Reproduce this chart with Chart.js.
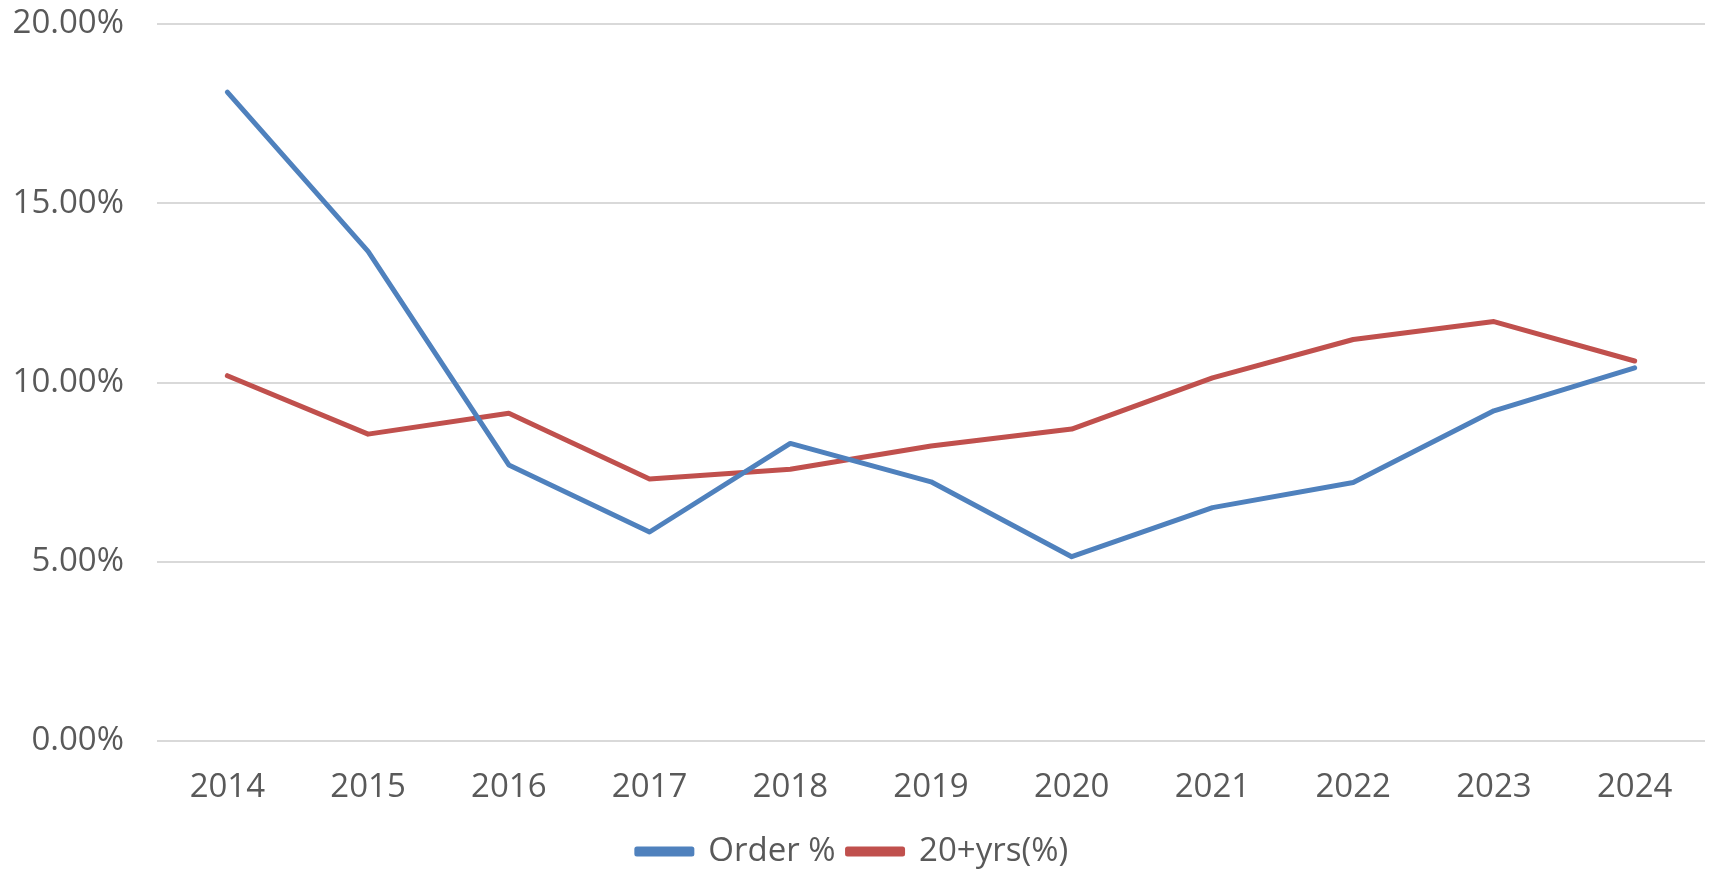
<!DOCTYPE html>
<html>
<head>
<meta charset="utf-8">
<script src="https://cdn.jsdelivr.net/npm/chart.js@4"></script>
<style>
  html, body { margin: 0; padding: 0; background: #fff; }
  #wrap { width: 1710px; height: 872px; }
</style>
</head>
<body>
<div id="wrap"><canvas id="rateChart" width="1710" height="872"></canvas></div>
<script>
// Years on the x axis
const years = ["2014", "2015", "2016", "2017", "2018", "2019", "2020", "2021", "2022", "2023", "2024"];

// Series values (percent)
const orderPct = [18.10, 13.66, 7.70, 5.83, 8.30, 7.23, 5.14, 6.51, 7.21, 9.21, 10.41];
const over20Pct = [10.19, 8.56, 9.14, 7.31, 7.58, 8.23, 8.70, 10.13, 11.20, 11.70, 10.60];

const seriesNames = ["Order %", "20+yrs(%)"];
const seriesColors = ["#4F81BD", "#C0504D"];

const textColor = '#595959';
const fontFamily = '"Open Sans", "Noto Sans", sans-serif';

// nudge the legend down a bit, closer to the bottom edge
const legendNudge = {
    id: 'legendNudge',
    afterLayout: (chart) => {
        chart.legend.top += 6;
        chart.legend.bottom += 6;
    }
};

let rateChart;

const initRateChart = () => {
    const ctx = document.getElementById('rateChart').getContext('2d');
    rateChart = new Chart(ctx, {
        type: 'line',
        data: {
            labels: years,
            datasets: [orderPct, over20Pct].map((values, i) => ({
                label: seriesNames[i],
                data: values,
                borderColor: seriesColors[i],
                backgroundColor: seriesColors[i],
                borderWidth: 5,
                pointRadius: 0,
                tension: 0,
                borderCapStyle: 'round',
                borderJoinStyle: 'round',
                fill: false
            }))
        },
        plugins: [legendNudge],
        options: {
            responsive: false,
            animation: false,
            layout: { padding: { top: 0, right: 5, left: 0, bottom: 0 } },
            plugins: {
                tooltip: { enabled: false },
                legend: {
                    position: 'bottom',
                    labels: {
                        color: textColor,
                        font: { family: fontFamily, size: 33 },
                        boxWidth: 55,
                        boxHeight: 5,
                        padding: 12
                    }
                }
            },
            scales: {
                x: {
                    offset: true,
                    grid: { display: false },
                    border: { display: false },
                    ticks: {
                        color: textColor,
                        font: { family: fontFamily, size: 33 },
                        padding: 19,
                        maxRotation: 0
                    },
                    afterFit: (scale) => { scale.height = 76; }
                },
                y: {
                    min: 0,
                    max: 20,
                    border: { display: false },
                    grid: { color: '#D9D9D9', lineWidth: 2, drawTicks: false },
                    ticks: {
                        stepSize: 5,
                        color: textColor,
                        font: { family: fontFamily, size: 33 },
                        padding: 33,
                        callback: (v) => v.toFixed(2) + '%'
                    },
                    afterFit: (scale) => {
                        scale.width = 157;
                        scale.paddingTop = 24;
                        scale.paddingBottom = 20;
                    }
                }
            }
        }
    });
};

initRateChart();
</script>
</body>
</html>
